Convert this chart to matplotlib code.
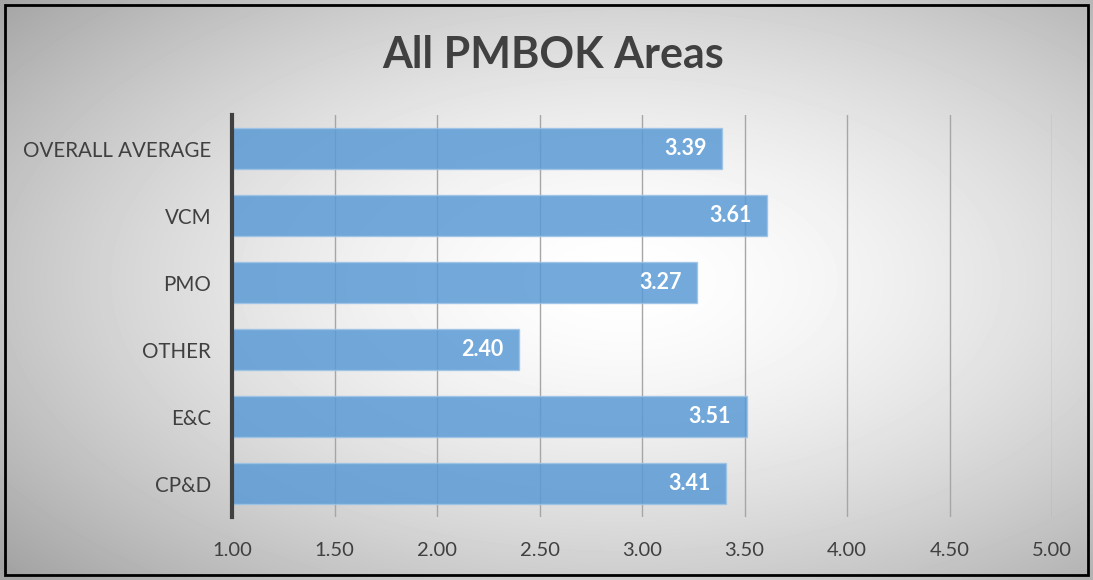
import numpy as np
import matplotlib
matplotlib.use("Agg")
import matplotlib.pyplot as plt
from matplotlib.patches import Rectangle

# chart data (bottom to top, as drawn)
categories = ["CP&D", "E&C", "OTHER", "PMO", "VCM", "OVERALL AVERAGE"]
scores = [3.41, 3.51, 2.40, 3.27, 3.61, 3.39]
x_ticks = [1.00, 1.50, 2.00, 2.50, 3.00, 3.50, 4.00, 4.50, 5.00]

plt.rcParams['font.family'] = ['Lato', 'DejaVu Sans']
text_col = '#404040'

fig = plt.figure(figsize=(10.93, 5.80), dpi=100)

# radial gradient background
bg = fig.add_axes([0, 0, 1, 1], zorder=0)
yy, xx = np.mgrid[0:580, 0:1093]
r = np.sqrt(((xx - 620) / 1093.0) ** 2 + ((yy - 280) / 580.0) ** 2)
shade = 1.0 - 0.36 * np.clip(r / 0.75, 0, 1) ** 1.6
bg.imshow(shade, cmap='gray', vmin=0, vmax=1, aspect='auto', extent=[0, 1, 0, 1])
bg.axis('off')
bg.add_patch(Rectangle((0.005, 0.008), 0.99, 0.984, transform=bg.transAxes,
                       fill=False, edgecolor='black', linewidth=2))

ax = fig.add_axes([0.2123, 0.1086, 0.7502, 0.6931], zorder=1)
ax.patch.set_alpha(0)

ypos = np.arange(len(categories))
bars = ax.barh(ypos, [s - 1.0 for s in scores], left=1.0, height=0.6,
               color='#5b9bd5', alpha=0.85, edgecolor='#9cc3e6', linewidth=1, zorder=3)

for b, s in zip(bars, scores):
    ax.text(s - 0.075, b.get_y() + b.get_height() / 2, f"{s:.2f}",
            ha='right', va='center', color='white', fontsize=15.5, fontweight='bold', zorder=4)

ax.set_xlim(1.0, 5.0)
ax.set_ylim(-0.5, len(categories) - 0.5)
ax.set_xticks(x_ticks)
ax.set_xticklabels([f"{t:.2f}" for t in x_ticks], fontsize=14.5, color=text_col)
ax.set_yticks(ypos)
ax.set_yticklabels(categories, fontsize=14.8, color=text_col)
ax.tick_params(axis='both', length=0)
ax.tick_params(axis='y', pad=15)
ax.tick_params(axis='x', pad=18)

ax.grid(axis='x', color='#a6a6a6', linewidth=1, zorder=2)
ax.set_axisbelow(False)
for side in ['top', 'right', 'bottom']:
    ax.spines[side].set_visible(False)
ax.spines['left'].set_color('#404040')
ax.spines['left'].set_linewidth(3)
ax.spines['left'].set_zorder(5)

fig.text(0.506, 0.905, "All PMBOK Areas", ha='center', va='center',
         fontsize=31, fontweight='bold', color=text_col)

plt.savefig('out.png', dpi=100)
